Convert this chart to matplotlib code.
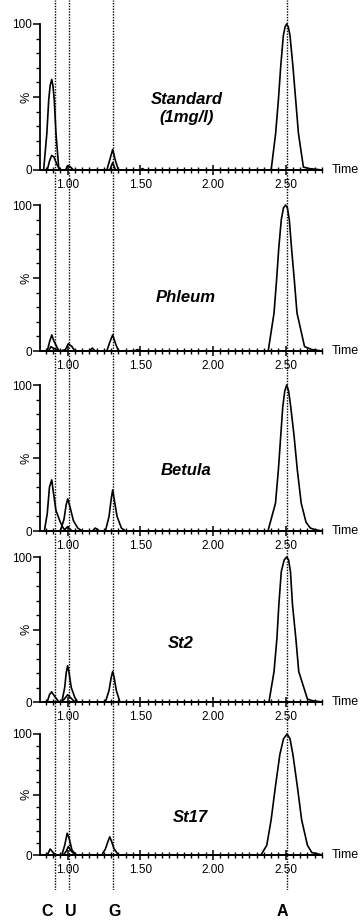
import numpy as np
import matplotlib
matplotlib.use("Agg")
import matplotlib.pyplot as plt
from matplotlib.ticker import MultipleLocator

plt.rcParams['font.family'] = ['Liberation Sans', 'DejaVu Sans']

# sample names shown on each panel
sample_names = ["Standard\n(1mg/l)", "Phleum", "Betula", "St2", "St17"]

# retention times of the marked nucleosides
marker_letters = ["C", "U", "G", "A"]
marker_times = [0.91, 1.01, 1.31, 2.507]

# traces per panel: (time, % intensity)
standard_traces = [
    ([0.81, 0.835, 0.857, 0.87, 0.88, 0.891, 0.90, 0.908, 0.92, 0.94, 2.75],
     [0, 0, 25, 48, 58, 62, 57, 48, 25, 0, 0]),
    ([0.81, 0.86, 0.875, 0.89, 0.905, 0.93, 0.95, 0.985, 1.0, 1.02, 1.04, 1.50, 1.515, 1.53, 2.75],
     [0, 0, 6, 10, 9, 3, 0, 0, 3, 2, 0, 0, 1, 0, 0]),
    ([0.81, 1.27, 1.29, 1.31, 1.33, 1.35, 2.75],
     [0, 0, 7, 14, 6, 0, 0]),
    ([0.81, 1.29, 1.31, 1.33, 2.75],
     [0, 0, 5, 0, 0]),
    ([0.81, 2.40, 2.431, 2.45, 2.466, 2.484, 2.496, 2.507, 2.518, 2.53, 2.55, 2.569, 2.588, 2.622, 2.66, 2.75],
     [0, 0, 25, 48, 71, 92, 98, 100, 98, 92, 71, 48, 25, 2, 1, 0]),
]
phleum_traces = [
    ([0.81, 0.86, 0.875, 0.891, 0.905, 0.94, 2.75],
     [0, 0, 6, 11, 7, 0, 0]),
    ([0.81, 0.87, 0.885, 0.90, 0.95, 0.985, 1.005, 1.03, 1.05, 1.15, 1.17, 1.19, 1.46, 1.48, 1.51, 2.75],
     [0, 0, 3, 2, 0, 1, 5, 3, 0, 0, 2, 0, 0, 1, 0, 0]),
    ([0.81, 1.27, 1.29, 1.31, 1.33, 1.35, 2.75],
     [0, 0, 6, 11, 5, 0, 0]),
    ([0.81, 2.38, 2.42, 2.437, 2.453, 2.47, 2.485, 2.50, 2.512, 2.525, 2.54, 2.56, 2.578, 2.63, 2.68, 2.75],
     [0, 0, 26, 48, 71, 90, 98, 100, 98, 90, 71, 48, 26, 3, 1, 0]),
]
betula_traces = [
    ([0.81, 0.84, 0.86, 0.875, 0.891, 0.90, 0.92, 0.95, 0.97, 0.99, 2.75],
     [0, 0, 12, 30, 35, 28, 14, 6, 2, 0, 0]),
    ([0.81, 0.95, 0.975, 0.99, 1.001, 1.015, 1.04, 1.07, 1.10, 2.75],
     [0, 0, 8, 18, 22, 17, 7, 2, 0, 0]),
    ([0.81, 0.97, 1.0, 1.03, 2.75],
     [0, 0, 3, 0, 0]),
    ([0.81, 1.17, 1.19, 1.22, 1.26, 1.285, 1.30, 1.31, 1.32, 1.34, 1.37, 1.40, 2.75],
     [0, 0, 2, 0, 0, 10, 22, 28, 22, 10, 2, 0, 0]),
    ([0.81, 2.378, 2.43, 2.45, 2.466, 2.48, 2.494, 2.507, 2.52, 2.535, 2.558, 2.58, 2.607, 2.64, 2.67, 2.70, 2.75],
     [0, 0, 19, 42, 65, 85, 96, 100, 96, 85, 65, 42, 19, 6, 2, 1, 0]),
]
st2_traces = [
    ([0.81, 0.86, 0.875, 0.89, 0.91, 0.94, 2.75],
     [0, 0, 5, 7, 4, 0, 0]),
    ([0.81, 0.96, 0.98, 0.99, 1.0, 1.01, 1.025, 1.05, 1.07, 2.75],
     [0, 0, 10, 20, 25, 20, 10, 3, 0, 0]),
    ([0.81, 0.96, 0.985, 1.0, 1.02, 1.05, 2.75],
     [0, 0, 3, 5, 3, 0, 0]),
    ([0.81, 1.26, 1.285, 1.30, 1.31, 1.32, 1.335, 1.36, 2.75],
     [0, 0, 8, 17, 21, 17, 8, 0, 0]),
    ([0.81, 2.385, 2.42, 2.44, 2.453, 2.47, 2.49, 2.507, 2.52, 2.533, 2.547, 2.57, 2.59, 2.65, 2.68, 2.75],
     [0, 0, 21, 44, 67, 90, 98, 100, 98, 90, 67, 44, 21, 2, 1, 0]),
]
st17_traces = [
    ([0.81, 0.86, 0.88, 0.90, 0.92, 2.75],
     [0, 0, 5, 2, 0, 0]),
    ([0.81, 0.96, 0.98, 0.997, 1.01, 1.03, 1.06, 2.75],
     [0, 0, 8, 18, 14, 4, 0, 0]),
    ([0.81, 0.97, 0.99, 1.005, 1.02, 1.05, 2.75],
     [0, 0, 3, 7, 4, 0, 0]),
    ([0.81, 1.235, 1.26, 1.28, 1.29, 1.30, 1.32, 1.35, 2.75],
     [0, 0, 5, 12, 15, 12, 5, 0, 0]),
    ([0.81, 2.33, 2.37, 2.40, 2.43, 2.46, 2.485, 2.51, 2.53, 2.55, 2.58, 2.61, 2.65, 2.68, 2.72, 2.75],
     [0, 0, 8, 29, 57, 83, 96, 100, 96, 83, 57, 29, 8, 2, 1, 0]),
]
panel_traces = [standard_traces, phleum_traces, betula_traces, st2_traces, st17_traces]

x_ticks = [1.00, 1.50, 2.00, 2.50]
x_tick_labels = ["1.00", "1.50", "2.00", "2.50"]

# layout in pixels of the 361x921 image
W, H = 361, 921
ax_left, ax_right = 40, 322
panel_px = [(24, 170), (205, 351), (385, 531), (557, 702), (734, 855)]   # (y of 100, y of 0)
name_px = [(187, 108), (186, 297), (186, 470), (181, 643), (190, 817)]
letter_px_y = 912
xmin, xmax = 0.81, 2.75
ax_w = ax_right - ax_left

fig = plt.figure(figsize=(W / 100, H / 100), dpi=100)
fig.patch.set_facecolor("white")

for traces, (ytop, ybot), name, (nx, ny) in zip(panel_traces, panel_px, sample_names, name_px):
    ax = fig.add_axes([ax_left / W, 1 - ybot / H, ax_w / W, (ybot - ytop) / H])
    ax.set_facecolor("none")
    for t, v in traces:
        ax.plot(t, v, color="black", lw=1.2, clip_on=False)
    ax.set_xlim(xmin, xmax)
    ax.set_ylim(0, 100)
    for s in ["top", "right"]:
        ax.spines[s].set_visible(False)
    ax.spines["left"].set_linewidth(1.3)
    ax.spines["bottom"].set_linewidth(1.3)

    ax.set_xticks(x_ticks)
    ax.set_xticklabels(x_tick_labels, fontsize=8.5)
    ax.xaxis.set_minor_locator(MultipleLocator(0.05))
    ax.tick_params(axis="x", which="major", direction="inout", length=7, width=1.1, pad=3)
    ax.tick_params(axis="x", which="minor", direction="inout", length=4, width=1.0)

    ax.set_yticks([0, 50, 100])
    ax.set_yticklabels(["0", "", "100"], fontsize=8.5)
    ax.yaxis.set_minor_locator(MultipleLocator(10))
    ax.tick_params(axis="y", which="major", direction="out", length=5, width=1.1, pad=1)
    ax.tick_params(axis="y", which="minor", direction="out", length=3, width=1.0)
    ax.text(-13 / ax_w, 50, "%", rotation=90, fontsize=9, ha="center", va="center",
            transform=ax.get_yaxis_transform(), clip_on=False)

    ax.text(1.0 + 10 / ax_w, 0, "Time", transform=ax.transAxes,
            fontsize=9, ha="left", va="center")
    fig.text(nx / W, 1 - ny / H, name, fontsize=12, fontweight="bold", fontstyle="italic",
             ha="center", va="center", linespacing=1.25)

# dotted reference lines through all panels
ov = fig.add_axes([ax_left / W, 1 - 890 / H, ax_w / W, 890 / H], zorder=10)
ov.set_xlim(xmin, xmax)
ov.set_ylim(0, 1)
ov.axis("off")
for xt in marker_times:
    ov.axvline(xt, color="black", lw=1.0, ls=(0, (1, 1)))

letter_x = [0.857, 1.02, 1.32, 2.48]
for lx, lt in zip(letter_x, marker_letters):
    ov.text(lx, 1 - letter_px_y / 890, lt, fontsize=11.5, fontweight="bold",
            ha="center", va="center", clip_on=False,
            transform=ov.get_xaxis_transform())

fig.savefig("out.png", dpi=100)
